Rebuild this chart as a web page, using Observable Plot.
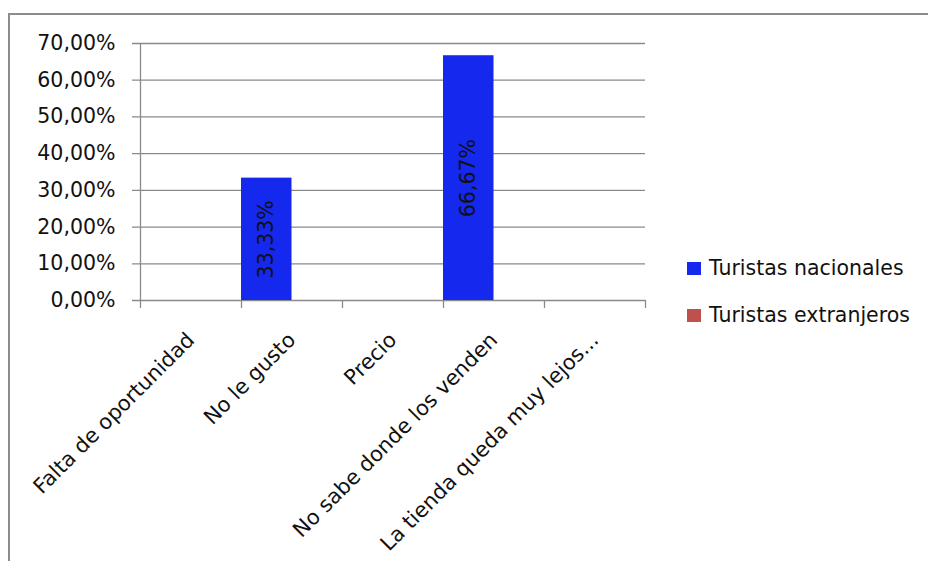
<!DOCTYPE html>
<html>
<head>
<meta charset="utf-8">
<script src="https://cdn.jsdelivr.net/npm/d3@7"></script>
<script src="https://cdn.jsdelivr.net/npm/@observablehq/plot@0.6"></script>
<style>
  html, body { margin: 0; padding: 0; background: #fff; }
  #wrap { position: relative; width: 928px; height: 561px; overflow: hidden; font-family: "DejaVu Sans", sans-serif; }
  #border { position: absolute; left: 8px; top: 13px; width: 940px; height: 580px; border: 2px solid #8c8c8c; box-sizing: border-box; }
  #chart { position: absolute; left: 0; top: 0; }
  #legend { position: absolute; left: 687px; top: 256px; font-size: 20.5px; color: #111; }
  .item { display: flex; align-items: center; height: 24px; margin-bottom: 23px; }
  .sw { width: 14px; height: 13px; margin-right: 8px; }
</style>
</head>
<body>
<div id="wrap">
  <div id="border"></div>
  <div id="chart"></div>
  <div id="legend"></div>
</div>
<script>
const categories = ["Falta de oportunidad", "No le gusto", "Precio", "No sabe donde los venden", "La tienda queda muy lejos..."];
const seriesNames = ["Turistas nacionales", "Turistas extranjeros"];
const nacionales = [0, 0.3333, 0, 0.6667, 0];
const extranjeros = [0, 0, 0, 0, 0];
const seriesColors = ["#1428EE", "#C0504D"];
const yTicks = [0, 0.1, 0.2, 0.3, 0.4, 0.5, 0.6, 0.7];

const fmt = d => (d * 100).toFixed(2).replace(".", ",") + "%";

const data = [];
[nacionales, extranjeros].forEach((vals, s) => {
  vals.forEach((v, i) => data.push({cat: categories[i], i, s, series: seriesNames[s], value: v}));
});

const boundaries = d3.range(categories.length + 1);
const centers = categories.map((c, i) => i + 0.5);

const plot = Plot.plot({
  width: 928,
  height: 561,
  marginLeft: 140,
  marginRight: 283,
  marginTop: 43,
  marginBottom: 261,
  style: { fontFamily: "DejaVu Sans, sans-serif", fontSize: "21px", color: "#111", background: "transparent" },
  x: { domain: [0, categories.length], axis: null },
  y: { domain: [0, 0.7], axis: null },
  color: { domain: seriesNames, range: seriesColors },
  marks: [
    Plot.ruleY(yTicks, { y: d => d, stroke: "#8a8a8a", strokeWidth: 1.3, insetLeft: -8 }),
    Plot.axisY({ ticks: yTicks, tickFormat: fmt, tickSize: 0, tickPadding: 25, fontSize: 20.5, fill: "#111", label: null }),
    Plot.rectY(data, { x1: d => d.i + d.s / 2, x2: d => d.i + (d.s + 1) / 2, y: "value", fill: "series", filter: d => d.value > 0 }),
    Plot.ruleX([0], { stroke: "#8a8a8a", strokeWidth: 1.3 }),
    Plot.axisX({ ticks: boundaries, tickSize: 8, tickFormat: () => "", stroke: "#8a8a8a", strokeWidth: 1.3, label: null }),
    Plot.axisX({ ticks: centers, tickSize: 0, tickFormat: (d) => categories[Math.round(d - 0.5)], tickRotate: -45, tickPadding: 36, fontSize: 21, fill: "#111", label: null }),
    Plot.text(data.filter(d => d.value > 0), { x: d => d.i + d.s / 2 + 0.25, y: d => d.value / 2, text: d => fmt(d.value), rotate: -90, fontSize: 20.5, fill: "#111" })
  ]
});
document.getElementById("chart").appendChild(plot);

const legend = document.getElementById("legend");
seriesNames.forEach((n, k) => {
  const row = document.createElement("div");
  row.className = "item";
  const sw = document.createElement("div");
  sw.className = "sw";
  sw.style.background = seriesColors[k];
  const t = document.createElement("span");
  t.textContent = n;
  row.appendChild(sw); row.appendChild(t);
  legend.appendChild(row);
});
</script>
</body>
</html>
